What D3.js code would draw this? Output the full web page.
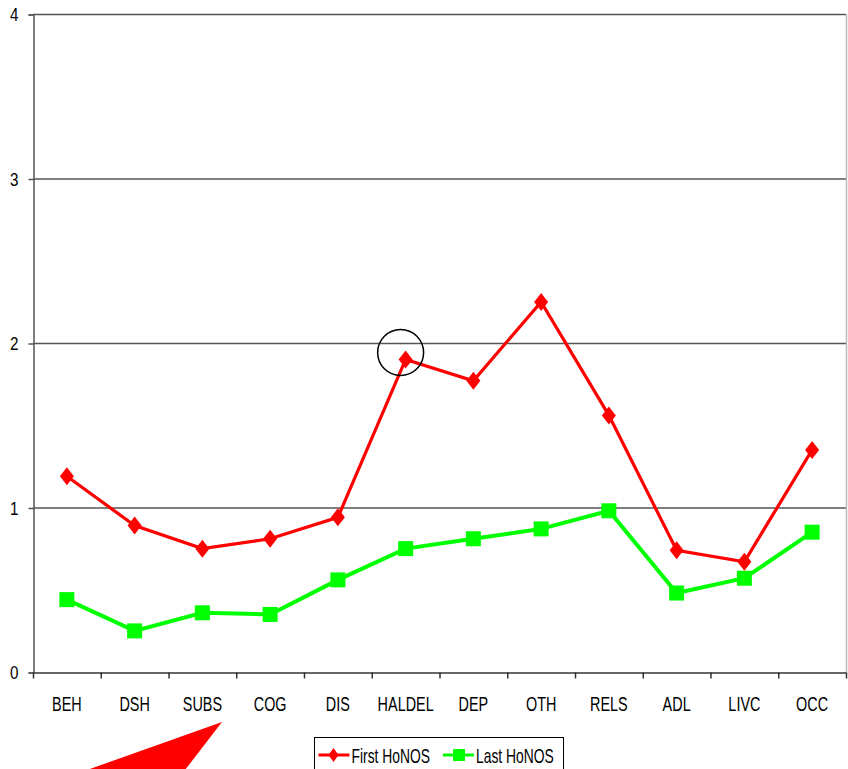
<!DOCTYPE html>
<html>
<head>
<meta charset="utf-8">
<script src="https://cdn.jsdelivr.net/npm/d3@7"></script>
<style>
  body { margin: 0; background: #fff; }
  svg text { font-family: "Liberation Sans Narrow", "Arial Narrow", "Liberation Sans", sans-serif; }
</style>
</head>
<body>
<div id="chart"></div>
<script>
var width = 848;
var height = 769;

var categories = ['BEH', 'DSH', 'SUBS', 'COG', 'DIS', 'HALDEL', 'DEP', 'OTH', 'RELS', 'ADL', 'LIVC', 'OCC'];
var firstHonos = [1.19, 0.89, 0.75, 0.81, 0.94, 1.90, 1.77, 2.25, 1.56, 0.74, 0.67, 1.35];
var lastHonos = [0.44, 0.25, 0.36, 0.35, 0.56, 0.75, 0.81, 0.87, 0.98, 0.48, 0.57, 0.85];
var yTicks = [0, 1, 2, 3, 4];
var seriesNames = ['First HoNOS', 'Last HoNOS'];

var plotLeft = 33, plotRight = 846, plotTop = 14, plotBottom = 672;

var svg = d3.select('#chart')
  .append('svg')
  .attr('width', width)
  .attr('height', height);

var x = d3.scaleBand()
  .domain(categories)
  .range([plotLeft, plotRight]);

var y = d3.scaleLinear()
  .domain([0, 4])
  .range([plotBottom, plotTop]);

// narrow the text, the original font is a tall condensed one
function narrow(sel, k) {
  sel.each(function() {
    var w = this.getComputedTextLength();
    d3.select(this)
      .attr('textLength', w * k)
      .attr('lengthAdjust', 'spacingAndGlyphs');
  });
}

// grid lines
svg.selectAll('line.grid')
  .data(yTicks.filter(function(d) { return d > 0; }))
  .enter()
  .append('line')
  .attr('class', 'grid')
  .attr('x1', plotLeft)
  .attr('x2', plotRight)
  .attr('y1', function(d) { return y(d) + 0.5; })
  .attr('y2', function(d) { return y(d) + 0.5; })
  .style('stroke', '#555')
  .style('stroke-width', 1.5);

// right border of the plot area
svg.append('line')
  .attr('x1', plotRight + 0.5)
  .attr('x2', plotRight + 0.5)
  .attr('y1', plotTop)
  .attr('y2', plotBottom)
  .style('stroke', '#bbb')
  .style('stroke-width', 1.5);

// y axis
var yAxis = svg.append('g')
  .attr('transform', 'translate(' + (plotLeft + 0.5) + ',0.5)')
  .call(d3.axisLeft(y).tickValues(yTicks).tickSize(5).tickPadding(10).tickFormat(d3.format('d')));
yAxis.select('.domain').style('stroke', '#555').style('stroke-width', 1.5);
yAxis.selectAll('.tick line').style('stroke', '#555').style('stroke-width', 1.5);
yAxis.selectAll('.tick text').style('font-size', '19px').style('fill', '#000').call(narrow, 0.8);

// x axis, ticks on category boundaries
var xAxis = svg.append('g')
  .attr('transform', 'translate(0,' + (plotBottom + 0.5) + ')')
  .call(d3.axisBottom(x).tickSize(0).tickPadding(24));
xAxis.select('.domain').style('stroke', '#333').style('stroke-width', 1.5);
xAxis.selectAll('.tick text').style('font-size', '20px').style('fill', '#000').call(narrow, 0.72);

var bounds = categories.map(function(c) { return x(c); }).concat([plotRight]);
xAxis.selectAll('line.bound')
  .data(bounds)
  .enter()
  .append('line')
  .attr('class', 'bound')
  .attr('x1', function(d) { return d + 0.5; })
  .attr('x2', function(d) { return d + 0.5; })
  .attr('y1', 0)
  .attr('y2', 6)
  .style('stroke', '#333')
  .style('stroke-width', 1.5);

function cx(i) { return x(categories[i]) + x.bandwidth() / 2; }

var line = d3.line()
  .x(function(d, i) { return cx(i); })
  .y(function(d) { return y(d); });

// green series
svg.append('path')
  .datum(lastHonos)
  .attr('d', line)
  .style('fill', 'none')
  .style('stroke', '#00ff00')
  .style('stroke-width', 4);

svg.selectAll('rect.last')
  .data(lastHonos)
  .enter()
  .append('rect')
  .attr('class', 'last')
  .attr('x', function(d, i) { return cx(i) - 7.5; })
  .attr('y', function(d) { return y(d) - 7.5; })
  .attr('width', 15)
  .attr('height', 15)
  .style('fill', '#00ff00');

// red series
svg.append('path')
  .datum(firstHonos)
  .attr('d', line)
  .style('fill', 'none')
  .style('stroke', '#ff0000')
  .style('stroke-width', 3.2);

svg.selectAll('path.first')
  .data(firstHonos)
  .enter()
  .append('path')
  .attr('class', 'first')
  .attr('d', function(d, i) {
    var px = cx(i), py = y(d);
    return 'M' + px + ',' + (py - 9) + 'L' + (px + 7) + ',' + py + 'L' + px + ',' + (py + 9) + 'L' + (px - 7) + ',' + py + 'Z';
  })
  .style('fill', '#ff0000');

// annotation circle around HALDEL
svg.append('circle')
  .attr('cx', cx(5) - 5)
  .attr('cy', y(firstHonos[5]) - 7)
  .attr('r', 23)
  .style('fill', 'none')
  .style('stroke', '#000')
  .style('stroke-width', 1.5);

// red arrow shape at bottom
svg.append('path')
  .attr('d', 'M87,770L222,722L185,770Z')
  .style('fill', '#ff0000');

// legend
var legend = svg.append('g').attr('transform', 'translate(314.5,737.5)');
legend.append('rect')
  .attr('width', 249)
  .attr('height', 40)
  .style('fill', '#fff')
  .style('stroke', '#000')
  .style('stroke-width', 1);

var legendX = [4, 128.5];
seriesNames.forEach(function(name, i) {
  var g = legend.append('g').attr('transform', 'translate(' + legendX[i] + ',17.5)');
  g.append('line')
    .attr('x1', 0).attr('x2', 31)
    .style('stroke', i === 0 ? '#ff0000' : '#00ff00')
    .style('stroke-width', 3);
  if (i === 0) {
    g.append('path').attr('d', 'M15,-7L20,0L15,7L10,0Z').style('fill', '#ff0000');
  } else {
    g.append('rect').attr('x', 10).attr('y', -6).attr('width', 12).attr('height', 12).style('fill', '#00ff00');
  }
  g.append('text')
    .attr('x', 33)
    .attr('y', 8)
    .style('font-size', '21px')
    .text(name)
    .call(narrow, 0.66);
});
</script>
</body>
</html>
